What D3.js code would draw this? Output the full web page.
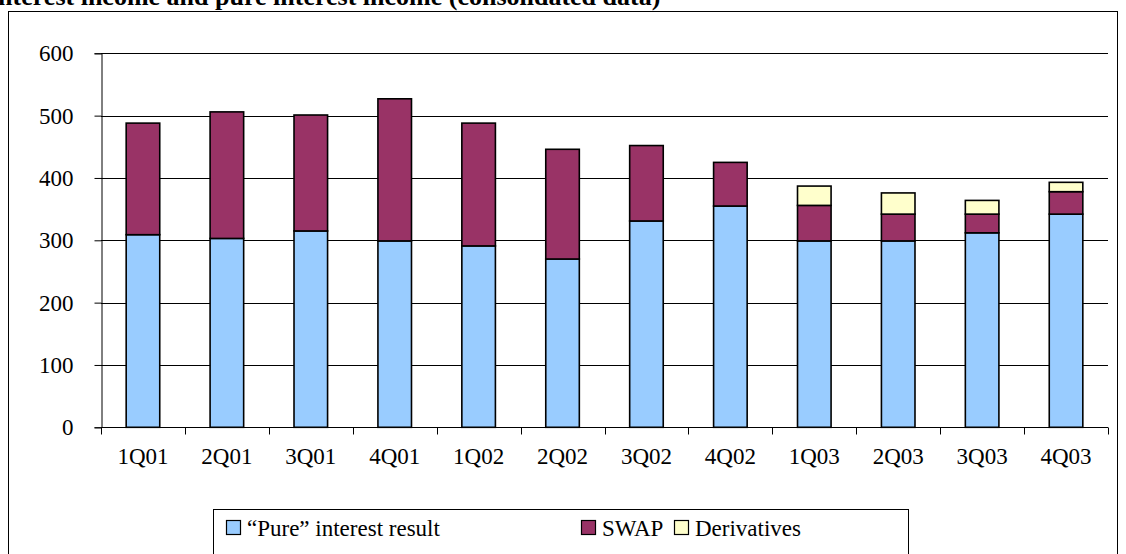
<!DOCTYPE html>
<html>
<head>
<meta charset="utf-8">
<script src="https://cdn.jsdelivr.net/npm/d3@7"></script>
<style>
  html, body { margin: 0; padding: 0; background: #fff; }
  svg { display: block; }
  svg text { font-family: "Liberation Serif", "DejaVu Serif", "Times New Roman", Times, serif; fill: #000; }
</style>
</head>
<body>
<svg id="chart" width="1126" height="554"></svg>
<script>
// Quarterly interest income, stacked by component
const quarters = ["1Q01","2Q01","3Q01","4Q01","1Q02","2Q02","3Q02","4Q02","1Q03","2Q03","3Q03","4Q03"];
const pureInterest = [309, 303, 315, 299, 291, 270, 331, 355, 299, 299, 312, 342];
const swap        = [179, 203, 186, 228, 197, 176, 121,  70,  57,  43,  30,  36];
const derivatives = [  0,   0,   0,   0,   0,   0,   0,   0,  31,  34,  22,  15];
const yTicks = [0, 100, 200, 300, 400, 500, 600];
const seriesNames = ["\u201CPure\u201D interest result", "SWAP", "Derivatives"];
const seriesColors = ["#99CCFF", "#993366", "#FFFFCC"];

const FONT = "'Liberation Serif', 'DejaVu Serif', 'Times New Roman', Times, serif";
const svg = d3.select("#chart");

// title (runs off the top edge)
svg.append("text")
  .attr("x", -12).attr("y", 5)
  .style("font-family", FONT)
  .attr("font-size", 26).attr("font-weight", "bold")
  .text("Interest income and pure interest income (consolidated data)");

// chart frame
svg.append("rect")
  .attr("x", 8.5).attr("y", 11.5)
  .attr("width", 1109).attr("height", 560)
  .attr("fill", "none").attr("stroke", "#000").attr("stroke-width", 1);

const plot = { left: 101, right: 1108, top: 53.3, bottom: 427.3 };

const x = d3.scaleBand()
  .domain(quarters)
  .range([plot.left, plot.right])
  .paddingInner(0.6)
  .paddingOuter(0.3);

const y = d3.scaleLinear()
  .domain([0, 600])
  .range([plot.bottom, plot.top]);

// horizontal gridlines
svg.append("g")
  .selectAll("line")
  .data(yTicks.filter(d => d > 0))
  .join("line")
  .attr("x1", plot.left).attr("x2", plot.right)
  .attr("y1", d => Math.round(y(d)) + 0.5).attr("y2", d => Math.round(y(d)) + 0.5)
  .attr("stroke", "#000").attr("stroke-width", 1);

// y axis
const yAxis = svg.append("g")
  .attr("transform", `translate(${plot.left + 0.5},0)`)
  .call(d3.axisLeft(y).tickValues(yTicks).tickSize(7).tickPadding(21).tickFormat(d3.format("d")));
yAxis.attr("font-family", null).attr("font-size", null);
yAxis.select(".domain").attr("stroke", "#000");
yAxis.selectAll(".tick line").attr("stroke", "#000");
yAxis.selectAll(".tick text")
  .style("font-family", FONT)
  .attr("font-size", 23)
  .attr("fill", "#000");

// stacked data
const rows = quarters.map((q, i) => ({ q, pure: pureInterest[i], swap: swap[i], deriv: derivatives[i] }));
const stack = d3.stack().keys(["pure", "swap", "deriv"]);
const layers = stack(rows);

svg.append("g")
  .selectAll("g")
  .data(layers)
  .join("g")
  .attr("fill", (d, i) => seriesColors[i])
  .selectAll("rect")
  .data(d => d.filter(s => s[1] - s[0] > 0))
  .join("rect")
  .attr("x", d => x(d.data.q))
  .attr("y", d => y(d[1]))
  .attr("width", x.bandwidth())
  .attr("height", d => y(d[0]) - y(d[1]))
  .attr("stroke", "#000")
  .attr("stroke-width", 1.6);

// x axis: baseline, boundary ticks, centred labels
const xAxis = svg.append("g").attr("transform", `translate(0,${Math.round(plot.bottom) + 0.5})`);
xAxis.append("line")
  .attr("x1", plot.left).attr("x2", plot.right)
  .attr("stroke", "#000");
const step = x.step();
const boundaries = d3.range(quarters.length + 1).map(i => plot.left + i * step);
xAxis.selectAll("line.tk")
  .data(boundaries)
  .join("line")
  .attr("class", "tk")
  .attr("x1", d => Math.round(d) + 0.5).attr("x2", d => Math.round(d) + 0.5)
  .attr("y1", 0).attr("y2", 7)
  .attr("stroke", "#000");
xAxis.selectAll("text")
  .data(quarters)
  .join("text")
  .attr("x", d => x(d) + x.bandwidth() / 2)
  .attr("y", 36)
  .attr("text-anchor", "middle")
  .style("font-family", FONT)
  .attr("font-size", 23)
  .text(d => d);

// legend
const legend = svg.append("g");
legend.append("rect")
  .attr("x", 213.5).attr("y", 509.5)
  .attr("width", 695).attr("height", 80)
  .attr("fill", "#fff").attr("stroke", "#000");
const legendX = [226, 581, 674];
const items = legend.selectAll("g.item")
  .data(seriesNames)
  .join("g")
  .attr("class", "item")
  .attr("transform", (d, i) => `translate(${legendX[i]},0)`);
items.append("rect")
  .attr("x", 0.5).attr("y", 520.5)
  .attr("width", 14).attr("height", 14)
  .attr("fill", (d, i) => seriesColors[i])
  .attr("stroke", "#000").attr("stroke-width", 1.2);
items.append("text")
  .attr("x", 21).attr("y", 536)
  .style("font-family", FONT)
  .attr("font-size", 23)
  .text(d => d);
</script>
</body>
</html>
